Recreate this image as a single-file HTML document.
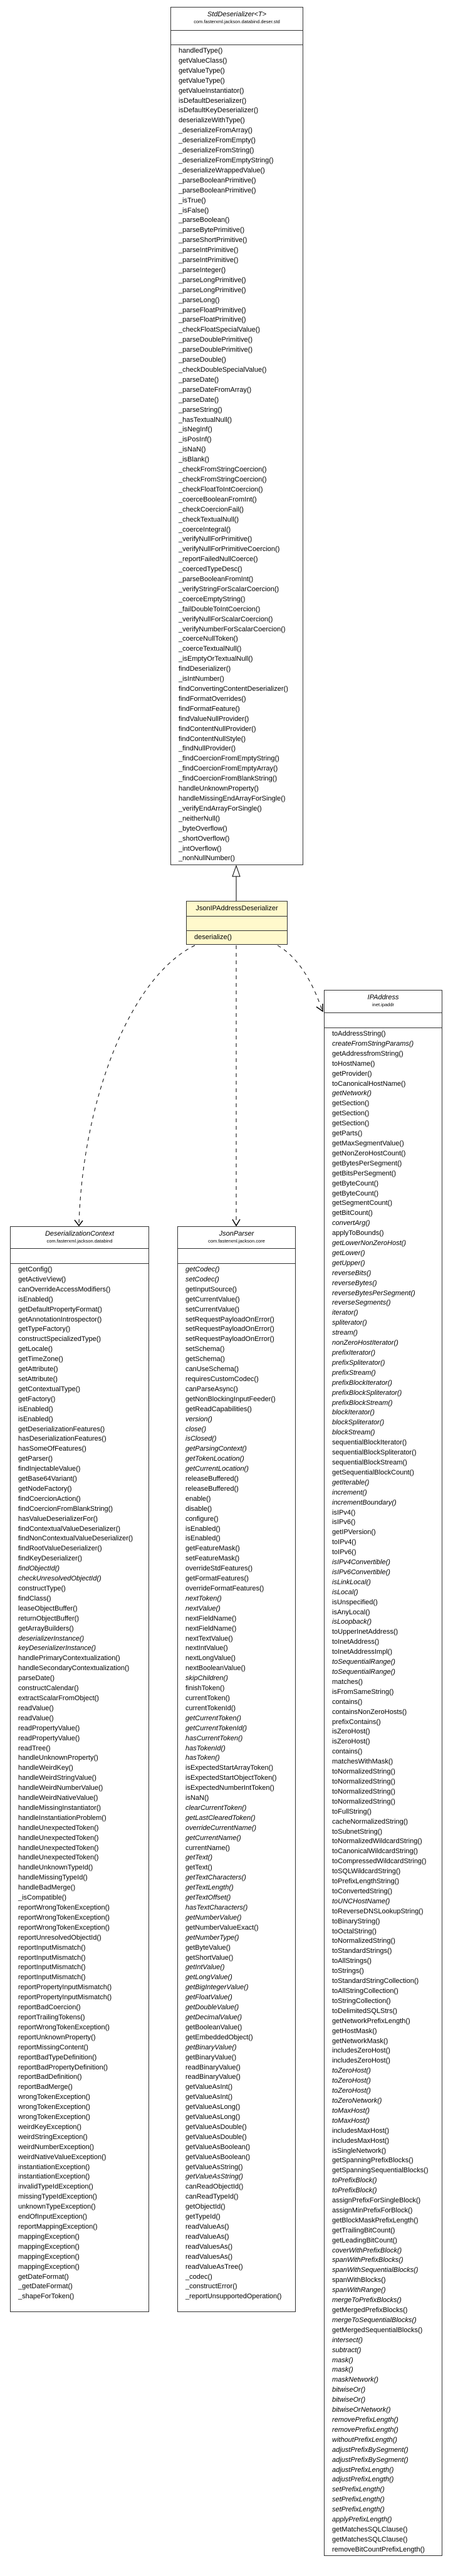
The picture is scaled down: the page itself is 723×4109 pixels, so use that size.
<!DOCTYPE html>
<html><head><meta charset="utf-8"><style>
html,body{margin:0;padding:0;background:#fff;}
body{width:723px;height:4109px;position:relative;overflow:hidden;font-family:"Liberation Sans",Arial,sans-serif;color:#000;}
.box{position:absolute;border:1px solid #333;background:#fff;box-sizing:border-box;}
.hd{border-bottom:1px solid #333;text-align:center;box-sizing:border-box;}
.nm{font-size:11px;line-height:13px;padding-top:5px;}
.nm.it{font-style:italic;}
.pk{font-size:7.5px;line-height:10px;}
.at{border-bottom:1px solid #333;box-sizing:border-box;}
.m{font-size:11px;line-height:15.9px;padding-left:12px;padding-top:2px;white-space:nowrap;}
svg{position:absolute;left:0;top:0;}
</style></head><body>
<svg width="723" height="4109" viewBox="0 0 723 4109">
<line x1="377" y1="1398" x2="377" y2="1437" stroke="#000" stroke-width="1"/>
<polygon points="377,1381 371,1398 383,1398" fill="#fff" stroke="#000" stroke-width="1"/>
<g fill="none" stroke="#000" stroke-width="1" stroke-dasharray="6,6">
<path d="M377 1508 L377 1952"/>
<path d="M311 1508 C205 1560 132 1760 126 1952"/>
<path d="M443 1508 C478 1528 500 1570 514 1611"/>
</g>
<g fill="none" stroke="#000" stroke-width="1.5">
<path d="M371 1945 L377 1955 L383 1945"/>
<path d="M119 1946 L126 1955 L132 1947"/>
<path d="M505 1606 L515 1613 L515 1601"/>
</g>
</svg>

<div class="box" style="left:272px;top:11px;width:212px;height:1369px;">
<div class="hd" style="height:37px;"><div class="nm it">StdDeserializer&lt;T&gt;</div><div class="pk">com.fasterxml.jackson.databind.deser.std</div></div>
<div class="at" style="height:23px;"></div>
<div class="m">handledType()<br>getValueClass()<br>getValueType()<br>getValueType()<br>getValueInstantiator()<br>isDefaultDeserializer()<br>isDefaultKeyDeserializer()<br>deserializeWithType()<br>_deserializeFromArray()<br>_deserializeFromEmpty()<br>_deserializeFromString()<br>_deserializeFromEmptyString()<br>_deserializeWrappedValue()<br>_parseBooleanPrimitive()<br>_parseBooleanPrimitive()<br>_isTrue()<br>_isFalse()<br>_parseBoolean()<br>_parseBytePrimitive()<br>_parseShortPrimitive()<br>_parseIntPrimitive()<br>_parseIntPrimitive()<br>_parseInteger()<br>_parseLongPrimitive()<br>_parseLongPrimitive()<br>_parseLong()<br>_parseFloatPrimitive()<br>_parseFloatPrimitive()<br>_checkFloatSpecialValue()<br>_parseDoublePrimitive()<br>_parseDoublePrimitive()<br>_parseDouble()<br>_checkDoubleSpecialValue()<br>_parseDate()<br>_parseDateFromArray()<br>_parseDate()<br>_parseString()<br>_hasTextualNull()<br>_isNegInf()<br>_isPosInf()<br>_isNaN()<br>_isBlank()<br>_checkFromStringCoercion()<br>_checkFromStringCoercion()<br>_checkFloatToIntCoercion()<br>_coerceBooleanFromInt()<br>_checkCoercionFail()<br>_checkTextualNull()<br>_coerceIntegral()<br>_verifyNullForPrimitive()<br>_verifyNullForPrimitiveCoercion()<br>_reportFailedNullCoerce()<br>_coercedTypeDesc()<br>_parseBooleanFromInt()<br>_verifyStringForScalarCoercion()<br>_coerceEmptyString()<br>_failDoubleToIntCoercion()<br>_verifyNullForScalarCoercion()<br>_verifyNumberForScalarCoercion()<br>_coerceNullToken()<br>_coerceTextualNull()<br>_isEmptyOrTextualNull()<br>findDeserializer()<br>_isIntNumber()<br>findConvertingContentDeserializer()<br>findFormatOverrides()<br>findFormatFeature()<br>findValueNullProvider()<br>findContentNullProvider()<br>findContentNullStyle()<br>_findNullProvider()<br>_findCoercionFromEmptyString()<br>_findCoercionFromEmptyArray()<br>_findCoercionFromBlankString()<br>handleUnknownProperty()<br>handleMissingEndArrayForSingle()<br>_verifyEndArrayForSingle()<br>_neitherNull()<br>_byteOverflow()<br>_shortOverflow()<br>_intOverflow()<br>_nonNullNumber()</div>
</div>

<div class="box" style="left:297px;top:1437px;width:162px;height:70px;background:#fff9cc;">
<div class="hd" style="height:24px;"><div class="nm" style="padding-top:5px;">JsonIPAddressDeserializer</div></div>
<div class="at" style="height:23px;"></div>
<div class="m" style="padding-top:3px;">deserialize()</div>
</div>

<div class="box" style="left:16px;top:1956px;width:222px;height:1732px;">
<div class="hd" style="height:35px;"><div class="nm it">DeserializationContext</div><div class="pk">com.fasterxml.jackson.databind</div></div>
<div class="at" style="height:24px;"></div>
<div class="m">getConfig()<br>getActiveView()<br>canOverrideAccessModifiers()<br>isEnabled()<br>getDefaultPropertyFormat()<br>getAnnotationIntrospector()<br>getTypeFactory()<br>constructSpecializedType()<br>getLocale()<br>getTimeZone()<br>getAttribute()<br>setAttribute()<br>getContextualType()<br>getFactory()<br>isEnabled()<br>isEnabled()<br>getDeserializationFeatures()<br>hasDeserializationFeatures()<br>hasSomeOfFeatures()<br>getParser()<br>findInjectableValue()<br>getBase64Variant()<br>getNodeFactory()<br>findCoercionAction()<br>findCoercionFromBlankString()<br>hasValueDeserializerFor()<br>findContextualValueDeserializer()<br>findNonContextualValueDeserializer()<br>findRootValueDeserializer()<br>findKeyDeserializer()<br><i>findObjectId()</i><br><i>checkUnresolvedObjectId()</i><br>constructType()<br>findClass()<br>leaseObjectBuffer()<br>returnObjectBuffer()<br>getArrayBuilders()<br><i>deserializerInstance()</i><br><i>keyDeserializerInstance()</i><br>handlePrimaryContextualization()<br>handleSecondaryContextualization()<br>parseDate()<br>constructCalendar()<br>extractScalarFromObject()<br>readValue()<br>readValue()<br>readPropertyValue()<br>readPropertyValue()<br>readTree()<br>handleUnknownProperty()<br>handleWeirdKey()<br>handleWeirdStringValue()<br>handleWeirdNumberValue()<br>handleWeirdNativeValue()<br>handleMissingInstantiator()<br>handleInstantiationProblem()<br>handleUnexpectedToken()<br>handleUnexpectedToken()<br>handleUnexpectedToken()<br>handleUnexpectedToken()<br>handleUnknownTypeId()<br>handleMissingTypeId()<br>handleBadMerge()<br>_isCompatible()<br>reportWrongTokenException()<br>reportWrongTokenException()<br>reportWrongTokenException()<br>reportUnresolvedObjectId()<br>reportInputMismatch()<br>reportInputMismatch()<br>reportInputMismatch()<br>reportInputMismatch()<br>reportPropertyInputMismatch()<br>reportPropertyInputMismatch()<br>reportBadCoercion()<br>reportTrailingTokens()<br>reportWrongTokenException()<br>reportUnknownProperty()<br>reportMissingContent()<br>reportBadTypeDefinition()<br>reportBadPropertyDefinition()<br>reportBadDefinition()<br>reportBadMerge()<br>wrongTokenException()<br>wrongTokenException()<br>wrongTokenException()<br>weirdKeyException()<br>weirdStringException()<br>weirdNumberException()<br>weirdNativeValueException()<br>instantiationException()<br>instantiationException()<br>invalidTypeIdException()<br>missingTypeIdException()<br>unknownTypeException()<br>endOfInputException()<br>reportMappingException()<br>mappingException()<br>mappingException()<br>mappingException()<br>mappingException()<br>getDateFormat()<br>_getDateFormat()<br>_shapeForToken()</div>
</div>

<div class="box" style="left:283px;top:1956px;width:189px;height:1732px;">
<div class="hd" style="height:35px;"><div class="nm it">JsonParser</div><div class="pk">com.fasterxml.jackson.core</div></div>
<div class="at" style="height:24px;"></div>
<div class="m"><i>getCodec()</i><br><i>setCodec()</i><br>getInputSource()<br>getCurrentValue()<br>setCurrentValue()<br>setRequestPayloadOnError()<br>setRequestPayloadOnError()<br>setRequestPayloadOnError()<br>setSchema()<br>getSchema()<br>canUseSchema()<br>requiresCustomCodec()<br>canParseAsync()<br>getNonBlockingInputFeeder()<br>getReadCapabilities()<br><i>version()</i><br><i>close()</i><br><i>isClosed()</i><br><i>getParsingContext()</i><br><i>getTokenLocation()</i><br><i>getCurrentLocation()</i><br>releaseBuffered()<br>releaseBuffered()<br>enable()<br>disable()<br>configure()<br>isEnabled()<br>isEnabled()<br>getFeatureMask()<br>setFeatureMask()<br>overrideStdFeatures()<br>getFormatFeatures()<br>overrideFormatFeatures()<br><i>nextToken()</i><br><i>nextValue()</i><br>nextFieldName()<br>nextFieldName()<br>nextTextValue()<br>nextIntValue()<br>nextLongValue()<br>nextBooleanValue()<br><i>skipChildren()</i><br>finishToken()<br>currentToken()<br>currentTokenId()<br><i>getCurrentToken()</i><br><i>getCurrentTokenId()</i><br><i>hasCurrentToken()</i><br><i>hasTokenId()</i><br><i>hasToken()</i><br>isExpectedStartArrayToken()<br>isExpectedStartObjectToken()<br>isExpectedNumberIntToken()<br>isNaN()<br><i>clearCurrentToken()</i><br><i>getLastClearedToken()</i><br><i>overrideCurrentName()</i><br><i>getCurrentName()</i><br>currentName()<br><i>getText()</i><br>getText()<br><i>getTextCharacters()</i><br><i>getTextLength()</i><br><i>getTextOffset()</i><br><i>hasTextCharacters()</i><br><i>getNumberValue()</i><br>getNumberValueExact()<br><i>getNumberType()</i><br>getByteValue()<br>getShortValue()<br><i>getIntValue()</i><br><i>getLongValue()</i><br><i>getBigIntegerValue()</i><br><i>getFloatValue()</i><br><i>getDoubleValue()</i><br><i>getDecimalValue()</i><br>getBooleanValue()<br>getEmbeddedObject()<br><i>getBinaryValue()</i><br>getBinaryValue()<br>readBinaryValue()<br>readBinaryValue()<br>getValueAsInt()<br>getValueAsInt()<br>getValueAsLong()<br>getValueAsLong()<br>getValueAsDouble()<br>getValueAsDouble()<br>getValueAsBoolean()<br>getValueAsBoolean()<br>getValueAsString()<br><i>getValueAsString()</i><br>canReadObjectId()<br>canReadTypeId()<br>getObjectId()<br>getTypeId()<br>readValueAs()<br>readValueAs()<br>readValuesAs()<br>readValuesAs()<br>readValueAsTree()<br>_codec()<br>_constructError()<br>_reportUnsupportedOperation()</div>
</div>

<div class="box" style="left:517px;top:1579px;width:189px;height:2498px;">
<div class="hd" style="height:36px;"><div class="nm it">IPAddress</div><div class="pk">inet.ipaddr</div></div>
<div class="at" style="height:24px;"></div>
<div class="m">toAddressString()<br><i>createFromStringParams()</i><br>getAddressfromString()<br>toHostName()<br>getProvider()<br>toCanonicalHostName()<br><i>getNetwork()</i><br>getSection()<br>getSection()<br>getSection()<br>getParts()<br>getMaxSegmentValue()<br>getNonZeroHostCount()<br>getBytesPerSegment()<br>getBitsPerSegment()<br>getByteCount()<br>getByteCount()<br>getSegmentCount()<br>getBitCount()<br><i>convertArg()</i><br>applyToBounds()<br><i>getLowerNonZeroHost()</i><br><i>getLower()</i><br><i>getUpper()</i><br><i>reverseBits()</i><br><i>reverseBytes()</i><br><i>reverseBytesPerSegment()</i><br><i>reverseSegments()</i><br><i>iterator()</i><br><i>spliterator()</i><br><i>stream()</i><br><i>nonZeroHostIterator()</i><br><i>prefixIterator()</i><br><i>prefixSpliterator()</i><br><i>prefixStream()</i><br><i>prefixBlockIterator()</i><br><i>prefixBlockSpliterator()</i><br><i>prefixBlockStream()</i><br><i>blockIterator()</i><br><i>blockSpliterator()</i><br><i>blockStream()</i><br>sequentialBlockIterator()<br>sequentialBlockSpliterator()<br>sequentialBlockStream()<br>getSequentialBlockCount()<br><i>getIterable()</i><br><i>increment()</i><br><i>incrementBoundary()</i><br>isIPv4()<br>isIPv6()<br>getIPVersion()<br>toIPv4()<br>toIPv6()<br><i>isIPv4Convertible()</i><br><i>isIPv6Convertible()</i><br><i>isLinkLocal()</i><br><i>isLocal()</i><br>isUnspecified()<br>isAnyLocal()<br><i>isLoopback()</i><br>toUpperInetAddress()<br>toInetAddress()<br>toInetAddressImpl()<br><i>toSequentialRange()</i><br><i>toSequentialRange()</i><br>matches()<br>isFromSameString()<br>contains()<br>containsNonZeroHosts()<br>prefixContains()<br>isZeroHost()<br>isZeroHost()<br>contains()<br>matchesWithMask()<br>toNormalizedString()<br>toNormalizedString()<br>toNormalizedString()<br>toNormalizedString()<br>toFullString()<br>cacheNormalizedString()<br>toSubnetString()<br>toNormalizedWildcardString()<br>toCanonicalWildcardString()<br>toCompressedWildcardString()<br>toSQLWildcardString()<br>toPrefixLengthString()<br>toConvertedString()<br><i>toUNCHostName()</i><br>toReverseDNSLookupString()<br>toBinaryString()<br>toOctalString()<br>toNormalizedString()<br>toStandardStrings()<br>toAllStrings()<br>toStrings()<br>toStandardStringCollection()<br>toAllStringCollection()<br>toStringCollection()<br>toDelimitedSQLStrs()<br>getNetworkPrefixLength()<br>getHostMask()<br>getNetworkMask()<br>includesZeroHost()<br>includesZeroHost()<br><i>toZeroHost()</i><br><i>toZeroHost()</i><br><i>toZeroHost()</i><br><i>toZeroNetwork()</i><br><i>toMaxHost()</i><br><i>toMaxHost()</i><br>includesMaxHost()<br>includesMaxHost()<br>isSingleNetwork()<br>getSpanningPrefixBlocks()<br>getSpanningSequentialBlocks()<br><i>toPrefixBlock()</i><br><i>toPrefixBlock()</i><br>assignPrefixForSingleBlock()<br>assignMinPrefixForBlock()<br>getBlockMaskPrefixLength()<br>getTrailingBitCount()<br>getLeadingBitCount()<br><i>coverWithPrefixBlock()</i><br><i>spanWithPrefixBlocks()</i><br><i>spanWithSequentialBlocks()</i><br>spanWithBlocks()<br><i>spanWithRange()</i><br><i>mergeToPrefixBlocks()</i><br>getMergedPrefixBlocks()<br><i>mergeToSequentialBlocks()</i><br>getMergedSequentialBlocks()<br><i>intersect()</i><br><i>subtract()</i><br><i>mask()</i><br><i>mask()</i><br><i>maskNetwork()</i><br><i>bitwiseOr()</i><br><i>bitwiseOr()</i><br><i>bitwiseOrNetwork()</i><br><i>removePrefixLength()</i><br><i>removePrefixLength()</i><br><i>withoutPrefixLength()</i><br><i>adjustPrefixBySegment()</i><br><i>adjustPrefixBySegment()</i><br><i>adjustPrefixLength()</i><br><i>adjustPrefixLength()</i><br><i>setPrefixLength()</i><br><i>setPrefixLength()</i><br><i>setPrefixLength()</i><br><i>applyPrefixLength()</i><br>getMatchesSQLClause()<br>getMatchesSQLClause()<br>removeBitCountPrefixLength()</div>
</div>
</body></html>
